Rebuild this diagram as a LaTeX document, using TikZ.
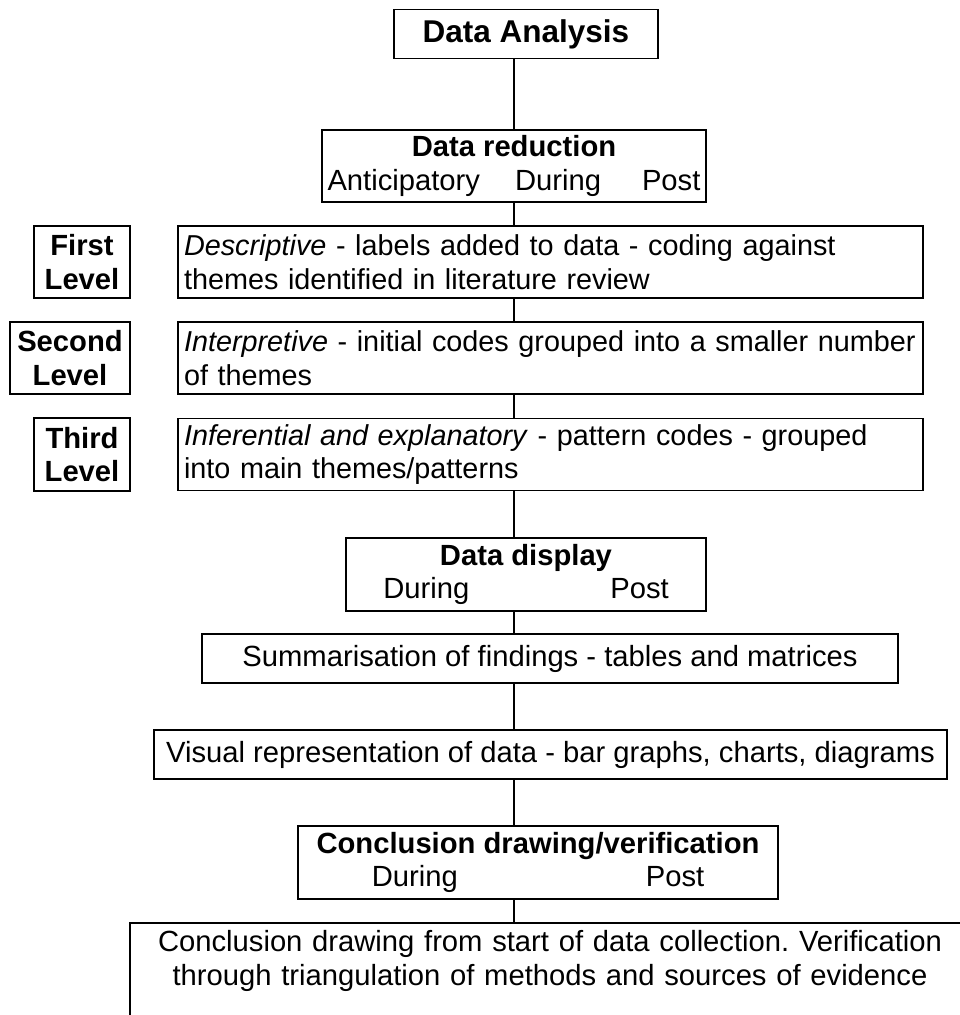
\documentclass[tikz,border=0pt]{standalone}
\usepackage{fontspec}
\setmainfont{Liberation Sans}
\frenchspacing
\begin{document}
\begin{tikzpicture}[x=1pt,y=-1pt,
  box/.style={draw,line width=1.6pt,inner sep=0pt,font=\fontsize{29.2}{33.5}\selectfont},
  lvl/.style={box,align=center,font=\fontsize{29.2}{33.5}\selectfont\bfseries},
  desc/.style={box,minimum width=745,minimum height=72,text width=733,align=left,inner xsep=6pt,font=\fontsize{28.8}{33.5}\selectfont},
  link/.style={line width=1.2pt}]
\clip (0,0) rectangle (960,1015);
\fill[white] (0,0) rectangle (960,1015);
\coordinate (spine) at (514,0);
% main column
\node[box,minimum width=264,minimum height=49,font=\fontsize{31.5}{36}\selectfont\bfseries] (da) at (526,34) {Data Analysis};
\node[box,minimum width=384,minimum height=72,align=center] (dr) at (514,166)
  {\textbf{Data reduction}\\Anticipatory\hspace{35pt}During\hspace{41pt}Post};
\node[desc] (d1) at (550.5,262) {\mbox{\textit{Descriptive} - labels added to data - coding against}\\\mbox{themes identified in literature review}};
\node[desc] (d2) at (550.5,358) {\mbox{\textit{Interpretive} - initial codes grouped into a smaller number}\\\mbox{of themes}};
\node[desc] (d3) at (550.5,454.5) {\mbox{\textit{Inferential and explanatory} - pattern codes - grouped}\\\mbox{into main themes/patterns}};
\node[box,minimum width=360,minimum height=73,align=center] (dd) at (526,574.5)
  {\textbf{Data display}\\During\hspace{141pt}Post};
\node[box,minimum width=696,minimum height=49] (sf) at (550,658.5) {Summarisation of findings - tables and matrices};
\node[box,minimum width=793,minimum height=49] (vr) at (550.5,754.5) {Visual representation of data - bar graphs, charts, diagrams};
\node[box,minimum width=480,minimum height=73,align=center] (cd) at (538,862.5)
  {\textbf{Conclusion drawing/verification}\\During\hspace{188pt}Post};
\node[box,anchor=north,minimum width=840,text width=830,align=center,inner ysep=8pt] (cf) at (550,922)
  {Conclusion drawing from start of data collection. Verification\\through triangulation of methods and sources of evidence\\\mbox{}};
% level boxes
\node[lvl,minimum width=96,minimum height=72] (l1) at (82,262) {First\\Level};
\node[lvl,minimum width=120,minimum height=72] (l2) at (70,358) {Second\\Level};
\node[lvl,minimum width=96,minimum height=73] (l3) at (82,454.5) {Third\\Level};
% connectors
\draw[link] (da.south -| spine) -- (dr.north -| spine);
\draw[link] (dr.south -| spine) -- (d1.north -| spine);
\draw[link] (d1.south -| spine) -- (d2.north -| spine);
\draw[link] (d2.south -| spine) -- (d3.north -| spine);
\draw[link] (d3.south -| spine) -- (dd.north -| spine);
\draw[link] (dd.south -| spine) -- (sf.north -| spine);
\draw[link] (sf.south -| spine) -- (vr.north -| spine);
\draw[link] (vr.south -| spine) -- (cd.north -| spine);
\draw[link] (cd.south -| spine) -- (cf.north -| spine);
\end{tikzpicture}
\end{document}
